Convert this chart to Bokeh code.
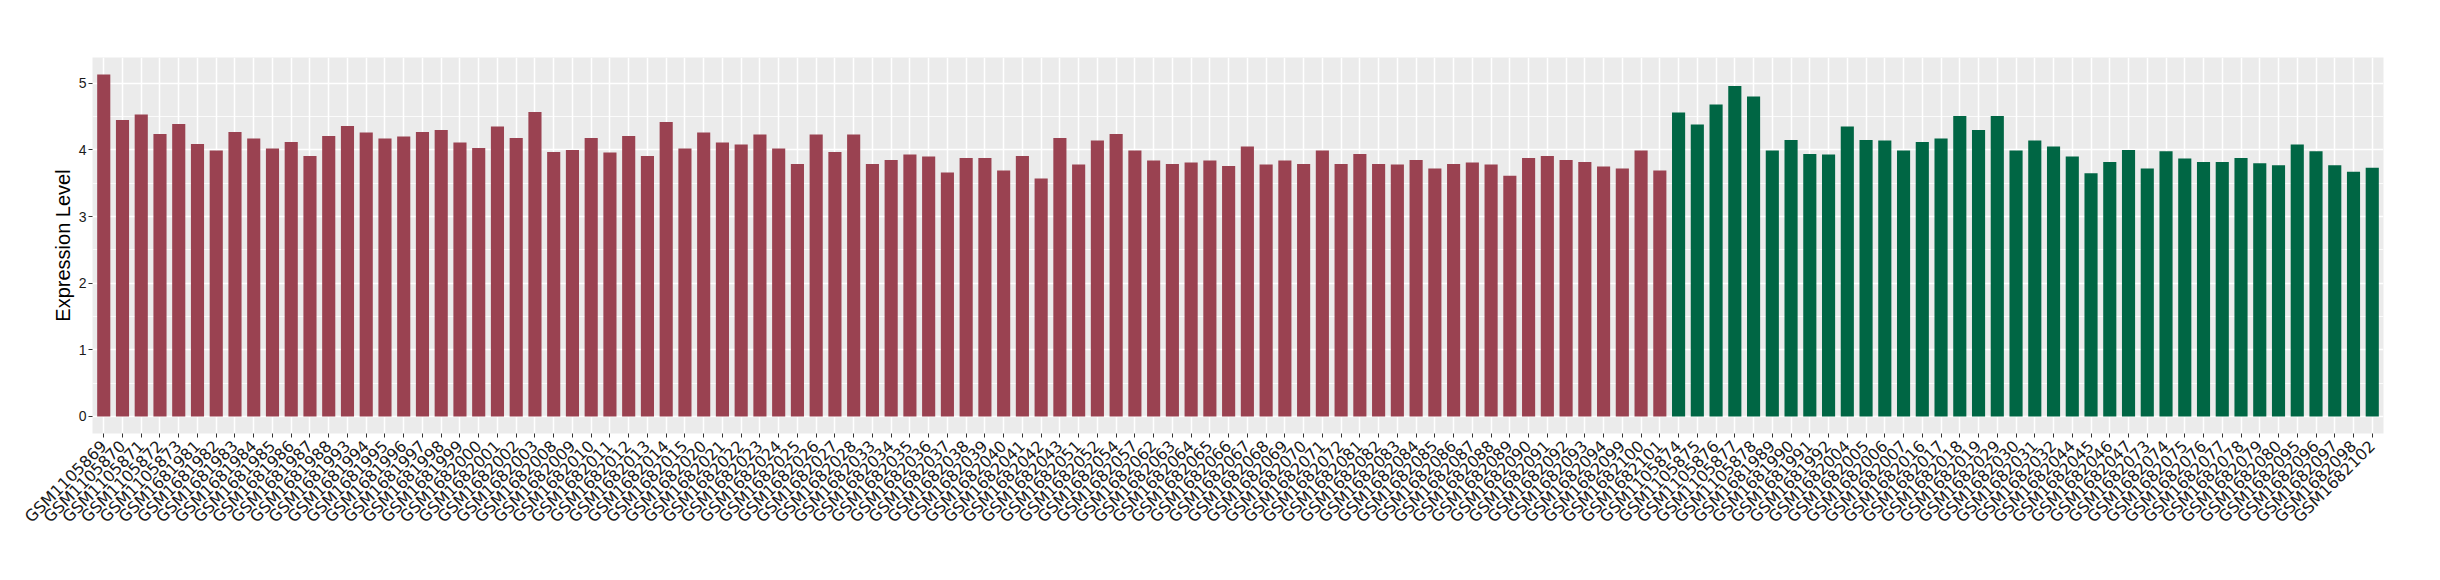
import math
from bokeh.plotting import figure
from bokeh.models import Range1d, FixedTicker, ColumnDataSource
from bokeh.embed import file_html
from bokeh.resources import INLINE

# ---- data ----
red_samples = [
    "GSM1105869", "GSM1105870", "GSM1105871", "GSM1105872", "GSM1105873",
    "GSM1681981", "GSM1681982", "GSM1681983", "GSM1681984", "GSM1681985",
    "GSM1681986", "GSM1681987", "GSM1681988", "GSM1681993", "GSM1681994",
    "GSM1681995", "GSM1681996", "GSM1681997", "GSM1681998", "GSM1681999",
    "GSM1682000", "GSM1682001", "GSM1682002", "GSM1682003", "GSM1682008",
    "GSM1682009", "GSM1682010", "GSM1682011", "GSM1682012", "GSM1682013",
    "GSM1682014", "GSM1682015", "GSM1682020", "GSM1682021", "GSM1682022",
    "GSM1682023", "GSM1682024", "GSM1682025", "GSM1682026", "GSM1682027",
    "GSM1682028", "GSM1682033", "GSM1682034", "GSM1682035", "GSM1682036",
    "GSM1682037", "GSM1682038", "GSM1682039", "GSM1682040", "GSM1682041",
    "GSM1682042", "GSM1682043", "GSM1682051", "GSM1682052", "GSM1682054",
    "GSM1682057", "GSM1682062", "GSM1682063", "GSM1682064", "GSM1682065",
    "GSM1682066", "GSM1682067", "GSM1682068", "GSM1682069", "GSM1682070",
    "GSM1682071", "GSM1682072", "GSM1682081", "GSM1682082", "GSM1682083",
    "GSM1682084", "GSM1682085", "GSM1682086", "GSM1682087", "GSM1682088",
    "GSM1682089", "GSM1682090", "GSM1682091", "GSM1682092", "GSM1682093",
    "GSM1682094", "GSM1682099", "GSM1682100", "GSM1682101",
]
red_values = [
    5.13, 4.45, 4.53, 4.24, 4.39, 4.09, 3.99, 4.27, 4.17, 4.02,
    4.12, 3.91, 4.21, 4.36, 4.26, 4.17, 4.20, 4.27, 4.30, 4.11,
    4.03, 4.35, 4.18, 4.57, 3.97, 4.00, 4.18, 3.96, 4.21, 3.91,
    4.42, 4.02, 4.26, 4.11, 4.08, 4.23, 4.02, 3.79, 4.23, 3.97,
    4.23, 3.79, 3.85, 3.93, 3.90, 3.66, 3.88, 3.88, 3.69, 3.91,
    3.57, 4.18, 3.78, 4.14, 4.24, 3.99, 3.84, 3.79, 3.81, 3.84,
    3.76, 4.05, 3.78, 3.84, 3.79, 3.99, 3.79, 3.94, 3.79, 3.78,
    3.85, 3.72, 3.79, 3.81, 3.78, 3.61, 3.88, 3.91, 3.85, 3.82,
    3.75, 3.72, 3.99, 3.69,
]
green_samples = [
    "GSM1105874", "GSM1105875", "GSM1105876", "GSM1105877", "GSM1105878",
    "GSM1681989", "GSM1681990", "GSM1681991", "GSM1681992", "GSM1682004",
    "GSM1682005", "GSM1682006", "GSM1682007", "GSM1682016", "GSM1682017",
    "GSM1682018", "GSM1682019", "GSM1682029", "GSM1682030", "GSM1682031",
    "GSM1682032", "GSM1682044", "GSM1682045", "GSM1682046", "GSM1682047",
    "GSM1682073", "GSM1682074", "GSM1682075", "GSM1682076", "GSM1682077",
    "GSM1682078", "GSM1682079", "GSM1682080", "GSM1682095", "GSM1682096",
    "GSM1682097", "GSM1682098", "GSM1682102",
]
green_values = [
    4.56, 4.38, 4.68, 4.96, 4.80, 3.99, 4.15, 3.94, 3.93, 4.35,
    4.15, 4.14, 3.99, 4.12, 4.17, 4.51, 4.30, 4.51, 3.99, 4.14,
    4.05, 3.90, 3.65, 3.82, 4.00, 3.72, 3.98, 3.87, 3.82, 3.82,
    3.88, 3.80, 3.77, 4.08, 3.98, 3.77, 3.67, 3.73,
]
group_colors = {"red": "#9A4251", "green": "#006644"}
y_label = "Expression Level"
y_ticks = [0, 1, 2, 3, 4, 5]

# ---- build ----
samples = red_samples + green_samples
values = red_values + green_values
colors = [group_colors["red"]] * len(red_samples) + [group_colors["green"]] * len(green_samples)
xs = list(range(1, len(samples) + 1))

src = ColumnDataSource(dict(x=xs, top=values, color=colors))

ymax = max(values)
pad = 0.05 * ymax
n = len(samples)

p = figure(width=2424, height=564, output_backend="svg", toolbar_location=None,
           x_range=Range1d(0.4, n + 0.6), y_range=Range1d(-pad, ymax + pad))
p.min_border_left = 92
p.min_border_right = 41
p.min_border_top = 57
p.min_border_bottom = 131
p.outline_line_color = None
p.background_fill_color = "#EBEBEB"
p.border_fill_color = "white"

p.vbar(x="x", top="top", bottom=0, width=0.7, fill_color="color", line_color=None, source=src)

# x axis
p.xaxis.ticker = FixedTicker(ticks=xs)
p.xaxis.major_label_overrides = {x: s for x, s in zip(xs, samples)}
p.xaxis.major_label_orientation = math.pi / 4
p.xaxis.major_label_text_font = "DejaVu Sans"
p.xaxis.major_label_text_font_size = "16px"
p.xaxis.major_label_text_color = "#1a1a1a"
p.xaxis.major_label_standoff = 6
p.xaxis.axis_line_color = None
p.xaxis.major_tick_out = 4
p.xaxis.major_tick_in = 0
p.xaxis.major_tick_line_color = "#333333"
p.xaxis.minor_tick_line_color = None

# y axis
minor = [t + 0.5 for t in y_ticks[:-1]]
p.yaxis.ticker = FixedTicker(ticks=y_ticks, minor_ticks=minor)
p.yaxis.major_label_text_font = "Liberation Sans"
p.yaxis.major_label_text_font_size = "14px"
p.yaxis.major_label_text_color = "#1a1a1a"
p.yaxis.major_label_standoff = 2
p.yaxis.axis_line_color = None
p.yaxis.major_tick_out = 4
p.yaxis.major_tick_in = 0
p.yaxis.major_tick_line_color = "#333333"
p.yaxis.minor_tick_line_color = None
p.yaxis.axis_label = y_label
p.yaxis.axis_label_text_font = "Liberation Sans"
p.yaxis.axis_label_text_font_size = "20px"
p.yaxis.axis_label_text_font_style = "normal"
p.yaxis.axis_label_text_color = "black"
p.yaxis.axis_label_standoff = 2

# grids
p.xgrid.grid_line_color = "white"
p.xgrid.grid_line_width = 1.5
p.ygrid.grid_line_color = "white"
p.ygrid.grid_line_width = 1.5
p.ygrid.minor_grid_line_color = "white"
p.ygrid.minor_grid_line_width = 0.8

open("out.html", "w").write(file_html(p, INLINE))
